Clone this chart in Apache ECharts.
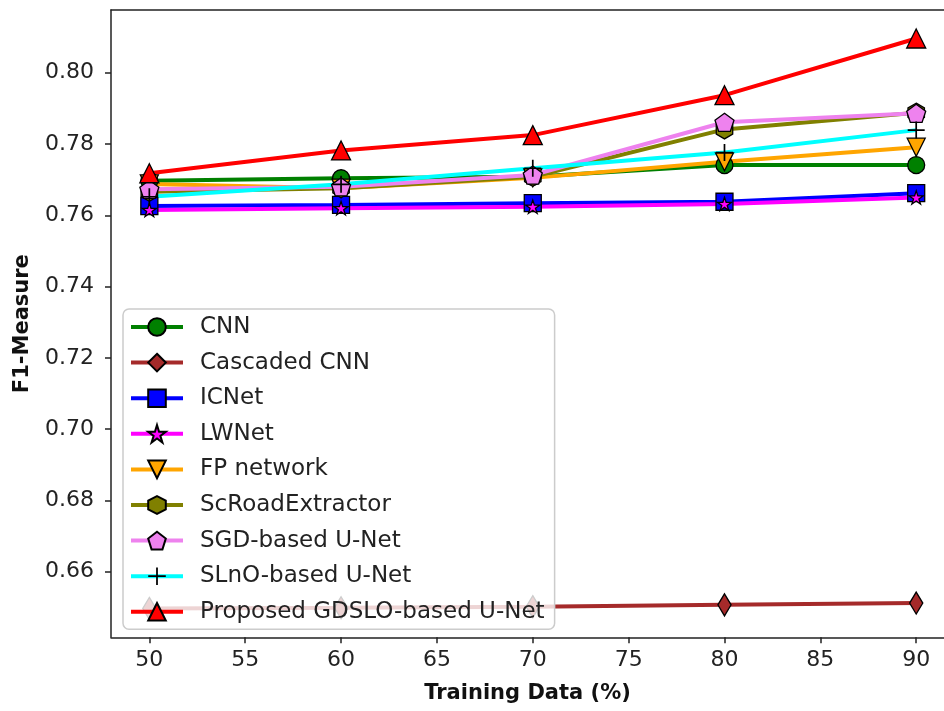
<!DOCTYPE html>
<html>
<head>
<meta charset="utf-8">
<script src="https://cdn.jsdelivr.net/npm/echarts@6/dist/echarts.min.js"></script>
<style>
html,body{margin:0;padding:0;background:#fff;}
#chart{width:944px;height:711px;}
</style>
</head>
<body>
<div id="chart"></div>
<script>
const trainingData = [50, 60, 70, 80, 90];
const xTicks = [50, 55, 60, 65, 70, 75, 80, 85, 90];
const yTicks = [0.66, 0.68, 0.70, 0.72, 0.74, 0.76, 0.78, 0.80];

const cnn       = [0.7697, 0.7704, 0.7708, 0.7741, 0.7741];
const cascaded  = [0.6497, 0.6499, 0.6502, 0.6507, 0.6512];
const icnet     = [0.7626, 0.7629, 0.7634, 0.7638, 0.7662];
const lwnet     = [0.7615, 0.7620, 0.7624, 0.7632, 0.7650];
const fpNetwork = [0.7688, 0.7676, 0.7705, 0.7750, 0.7791];
const scRoad    = [0.7666, 0.7676, 0.7708, 0.7841, 0.7888];
const sgdUnet   = [0.7673, 0.7680, 0.7713, 0.7861, 0.7886];
const slnoUnet  = [0.7652, 0.7687, 0.7732, 0.7776, 0.7839];
const proposed  = [0.7718, 0.7782, 0.7825, 0.7937, 0.8096];

const names = ['CNN', 'Cascaded CNN', 'ICNet', 'LWNet', 'FP network', 'ScRoadExtractor',
               'SGD-based U-Net', 'SLnO-based U-Net', 'Proposed GDSLO-based U-Net'];

const SYM = {
  hexagon: 'path://M0,-1 L0.866,-0.5 L0.866,0.5 L0,1 L-0.866,0.5 L-0.866,-0.5 Z',
  pentagon: 'path://M0,-1 L0.951,-0.309 L0.588,0.809 L-0.588,0.809 L-0.951,-0.309 Z',
  star: 'path://M0,-1 L0.2245,-0.309 L0.951,-0.309 L0.3633,0.118 L0.5878,0.809 L0,0.382 L-0.5878,0.809 L-0.3633,0.118 L-0.951,-0.309 L-0.2245,-0.309 Z',
  thinDiamond: 'path://M0,-1 L0.6,0 L0,1 L-0.6,0 Z',
  downTri: 'path://M-1,-1 L1,-1 L0,1 Z',
  upTri: 'path://M0,-1 L1,1 L-1,1 Z',
  plus: 'path://M-0.1,-1 L0.1,-1 L0.1,-0.1 L1,-0.1 L1,0.1 L0.1,0.1 L0.1,1 L-0.1,1 L-0.1,0.1 L-1,0.1 L-1,-0.1 L-0.1,-0.1 Z'
};

function mk(name, values, lineColor, faceColor, symbol, size, edge) {
  return {
    name: name,
    type: 'line',
    data: trainingData.map((x, i) => [x, values[i]]),
    symbol: symbol,
    symbolSize: size,
    symbolKeepAspect: true,
    showAllSymbol: true,
    lineStyle: { color: lineColor, width: 4 },
    itemStyle: { color: faceColor, borderColor: '#000', borderWidth: edge === false ? 0 : 1.3 },
    emphasis: { disabled: true },
    animation: false
  };
}

const series = [
  mk(names[0], cnn, '#008000', '#008000', 'circle', 17),
  mk(names[1], cascaded, '#a52a2a', '#a52a2a', SYM.thinDiamond, 22),
  mk(names[2], icnet, '#0000ff', '#0000ff', 'rect', 17),
  mk(names[3], lwnet, '#ff00ff', '#ff00ff', SYM.star, 14),
  mk(names[4], fpNetwork, '#ffa500', '#ffa500', SYM.downTri, 18),
  mk(names[5], scRoad, '#808000', '#808000', SYM.hexagon, 19),
  mk(names[6], sgdUnet, '#ee82ee', '#ee82ee', SYM.pentagon, 19),
  mk(names[7], slnoUnet, '#00ffff', '#000000', SYM.plus, 17, false),
  mk(names[8], proposed, '#ff0000', '#ff0000', SYM.upTri, 19)
];

const font = 'DejaVu Sans';
const chart = echarts.init(document.getElementById('chart'), null, { renderer: 'canvas' });
chart.setOption({
  backgroundColor: '#ffffff',
  animation: false,
  grid: { left: 111, right: 0, top: 10, bottom: 73.7 },
  xAxis: [{
    type: 'value', min: 48, max: 91.45,
    name: 'Training Data (%)', nameLocation: 'middle', nameGap: 46,
    nameTextStyle: { fontFamily: font, fontWeight: 'bold', fontSize: 21, color: '#111' },
    axisLine: { show: true, lineStyle: { color: '#222', width: 1.5 } },
    axisTick: { show: true, length: 6, customValues: xTicks, lineStyle: { color: '#222', width: 1.5 } },
    axisLabel: { customValues: xTicks, fontFamily: font, fontSize: 22, color: '#222', margin: 12 },
    splitLine: { show: false }
  }, {
    type: 'value', min: 48, max: 91.45, position: 'top',
    axisLine: { show: true, lineStyle: { color: '#222', width: 1.5 } },
    axisTick: { show: false }, axisLabel: { show: false }, splitLine: { show: false }
  }],
  yAxis: {
    type: 'value', min: 0.6416, max: 0.8176,
    name: 'F1-Measure', nameLocation: 'middle', nameGap: 78, nameRotate: 90,
    nameTextStyle: { fontFamily: font, fontWeight: 'bold', fontSize: 21, color: '#111' },
    axisLine: { show: true, lineStyle: { color: '#222', width: 1.5 } },
    axisTick: { show: true, length: 6, customValues: yTicks, lineStyle: { color: '#222', width: 1.5 } },
    axisLabel: { customValues: yTicks, fontFamily: font, fontSize: 22, color: '#222', margin: 17,
                 formatter: v => v.toFixed(2) },
    splitLine: { show: false }
  },
  legend: {
    orient: 'vertical',
    left: 123, top: 309,
    padding: [6.5, 10, 6, 6],
    itemWidth: 52, itemHeight: 22, itemGap: 12.6,
    lineStyle: { width: 4 },
    backgroundColor: 'rgba(255,255,255,0.8)',
    borderColor: '#cccccc', borderWidth: 1.5, borderRadius: 6,
    textStyle: { fontFamily: font, fontSize: 23, color: '#222', padding: [0, 0, 0, 12] },
    data: names
  },
  series: series
});
</script>
</body>
</html>
